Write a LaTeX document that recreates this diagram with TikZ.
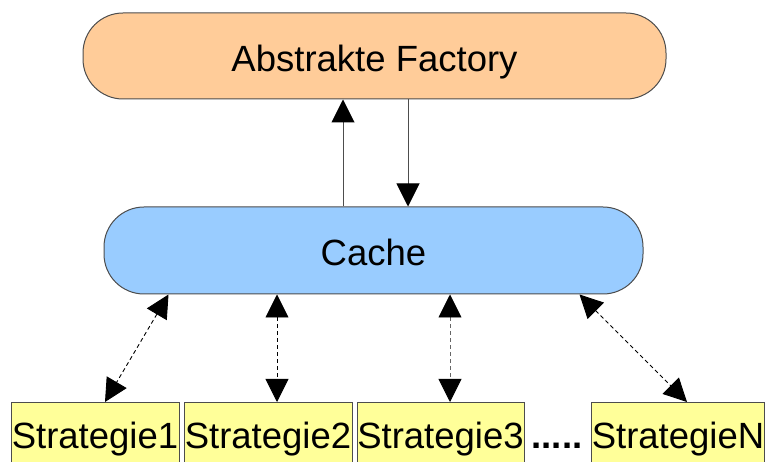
\documentclass[tikz,border=0pt]{standalone}
\usepackage{fontspec}
\setmainfont{Liberation Sans}
\usetikzlibrary{arrows.meta}

\definecolor{peach}{HTML}{FFCC99}
\definecolor{skyblue}{HTML}{99CCFF}
\definecolor{paleyellow}{HTML}{FFFF99}
\definecolor{edgegray}{HTML}{4D4D4D}

\tikzset{
  bigfont/.style={font=\fontsize{36.5}{44}\selectfont},
  pill/.style={draw=edgegray, line width=1pt, rounded corners=40pt,
    inner sep=0pt, bigfont, text height=59pt},
  stratbox/.style={draw=edgegray, line width=1pt, fill=paleyellow,
    inner sep=0pt, anchor=north, minimum height=80pt,
    text height=46pt, text depth=34pt, bigfont},
  flow/.style={draw=edgegray, line width=1pt, -{Triangle[length=23pt, width=23pt, color=black]}},
  dlink/.style={draw=black, line width=0.9pt, dash pattern=on 4pt off 3pt,
    {Triangle[length=23pt, width=23pt, color=black]}-{Triangle[length=23pt, width=23pt, color=black]}}
}

\begin{document}
\begin{tikzpicture}[x=1pt, y=-1pt]
  \clip (0,0) rectangle (766,462);
  \fill[white] (0,0) rectangle (766,462);

  % top level: the factory and the cache
  \node[pill, fill=peach, minimum width=583pt, minimum height=86pt,
        text depth=27pt] (factory) at (374.5,56) {Abstrakte Factory};
  \node[pill, fill=skyblue, minimum width=539pt, minimum height=87pt,
        text depth=28pt] (cache) at (373.5,250.5) {Cache};

  % strategies (their lower edges run past the page)
  \node[stratbox, minimum width=168pt] (s1) at (95,402) {Strategie1};
  \node[stratbox, minimum width=168pt] (s2) at (268,402) {Strategie2};
  \node[stratbox, minimum width=167pt] (s3) at (440.5,402) {Strategie3};
  \node[stratbox, minimum width=172pt] (sn) at (678,402) {StrategieN};
  \node[bigfont, anchor=base, inner sep=0pt] (dots) at (557,448) {\textbf{.....}};

  % requests between cache and factory
  \draw[flow] ([xshift=-30.5pt]cache.north) -- ([xshift=-31.5pt]factory.south);
  \draw[flow] ([xshift=33.5pt]factory.south) -- ([xshift=34.5pt]cache.north);

  % cache to strategies
  \draw[dlink] ([xshift=65pt]cache.south west) -- ([xshift=10pt]s1.north);
  \draw[dlink] ([xshift=-96.5pt]cache.south) -- ([xshift=9pt]s2.north);
  \draw[dlink, draw=black!60] ([xshift=76.5pt]cache.south) -- ([xshift=9.5pt]s3.north);
  \draw[dlink] ([xshift=-64pt]cache.south east) -- ([xshift=9pt]sn.north);
\end{tikzpicture}
\end{document}
